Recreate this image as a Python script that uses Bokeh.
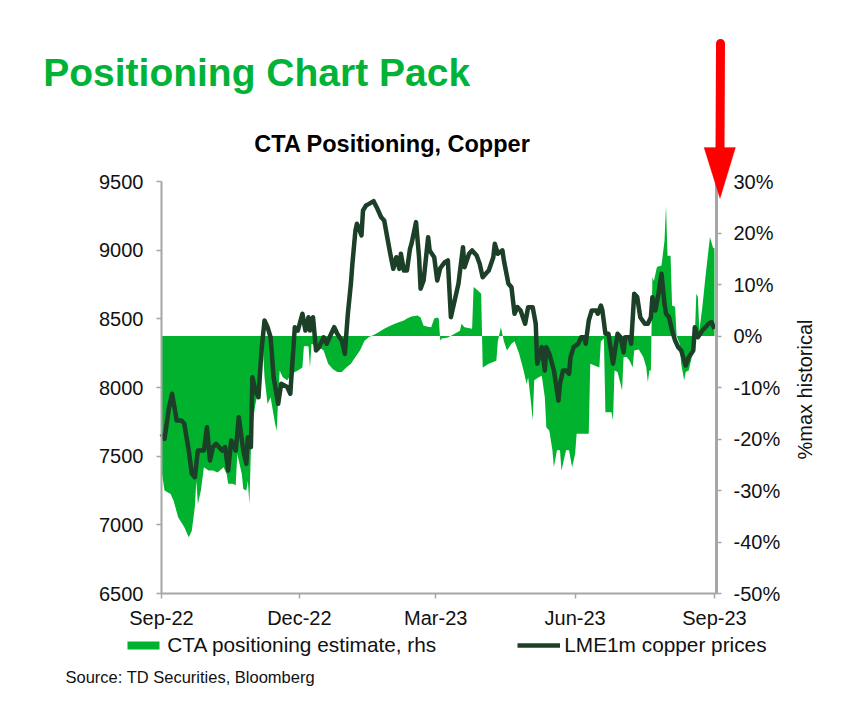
import math
import pandas as pd
from bokeh.plotting import figure
from bokeh.models import (Range1d, LinearAxis, FixedTicker, DatetimeTickFormatter,
                          PrintfTickFormatter, Label, Legend, LegendItem,
                          ColumnDataSource, PolyAnnotation, Arrow)
from bokeh.embed import file_html
from bokeh.resources import INLINE

# ---------------- data ----------------
price_dates = [
    "2022-09-01", "2022-09-03", "2022-09-06", "2022-09-08", "2022-09-11", "2022-09-14",
    "2022-09-16", "2022-09-19", "2022-09-21", "2022-09-23", "2022-09-25", "2022-09-29",
    "2022-10-01", "2022-10-03", "2022-10-05", "2022-10-07", "2022-10-11", "2022-10-13",
    "2022-10-15", "2022-10-17", "2022-10-20", "2022-10-22", "2022-10-25", "2022-10-27",
    "2022-10-28", "2022-10-30", "2022-10-31", "2022-11-02", "2022-11-04", "2022-11-06",
    "2022-11-08", "2022-11-10", "2022-11-12", "2022-11-14", "2022-11-17", "2022-11-19",
    "2022-11-23", "2022-11-25", "2022-11-28", "2022-11-30", "2022-12-03", "2022-12-05",
    "2022-12-07", "2022-12-08", "2022-12-10", "2022-12-12", "2022-12-14", "2022-12-17",
    "2022-12-19", "2022-12-22", "2022-12-24", "2022-12-26", "2022-12-29", "2022-12-31",
    "2023-01-02", "2023-01-04", "2023-01-05", "2023-01-07", "2023-01-08", "2023-01-09",
    "2023-01-11", "2023-01-12", "2023-01-14", "2023-01-16", "2023-01-19", "2023-01-21",
    "2023-01-24", "2023-01-26", "2023-01-28", "2023-01-30", "2023-02-01", "2023-02-03",
    "2023-02-05", "2023-02-06", "2023-02-08", "2023-02-10", "2023-02-12", "2023-02-13",
    "2023-02-16", "2023-02-18", "2023-02-19", "2023-02-21", "2023-02-24", "2023-02-25",
    "2023-02-28", "2023-03-02", "2023-03-04", "2023-03-07", "2023-03-09", "2023-03-11",
    "2023-03-13", "2023-03-16", "2023-03-19", "2023-03-20", "2023-03-23", "2023-03-25",
    "2023-03-28", "2023-03-30", "2023-04-01", "2023-04-03", "2023-04-05", "2023-04-08",
    "2023-04-09", "2023-04-11", "2023-04-14", "2023-04-15", "2023-04-18", "2023-04-20",
    "2023-04-22", "2023-04-24", "2023-04-26", "2023-04-29", "2023-05-01", "2023-05-04",
    "2023-05-06", "2023-05-07", "2023-05-10", "2023-05-12", "2023-05-13", "2023-05-15",
    "2023-05-18", "2023-05-19", "2023-05-21", "2023-05-22", "2023-05-24", "2023-05-26",
    "2023-05-28", "2023-05-29", "2023-05-31", "2023-06-03", "2023-06-05", "2023-06-07",
    "2023-06-08", "2023-06-10", "2023-06-12", "2023-06-15", "2023-06-16", "2023-06-18",
    "2023-06-19", "2023-06-21", "2023-06-23", "2023-06-24", "2023-06-26", "2023-06-28",
    "2023-06-29", "2023-07-01", "2023-07-03", "2023-07-04", "2023-07-07", "2023-07-08",
    "2023-07-10", "2023-07-12", "2023-07-14", "2023-07-17", "2023-07-19", "2023-07-21",
    "2023-07-22", "2023-07-24", "2023-07-26", "2023-07-28", "2023-07-30", "2023-07-31",
    "2023-08-02", "2023-08-04", "2023-08-06", "2023-08-08", "2023-08-10", "2023-08-13",
    "2023-08-15", "2023-08-18", "2023-08-19", "2023-08-21", "2023-08-24", "2023-08-26",
    "2023-08-28", "2023-08-30", "2023-09-01",
]
price_values = [
    7663, 7627, 7857, 7954, 7760, 7760,
    7738, 7541, 7372, 7347, 7541, 7541,
    7711, 7469, 7566, 7590, 7541, 7566,
    7396, 7614, 7541, 7784, 7541, 7444,
    7638, 7566, 8075, 7978, 7929, 8270,
    8488, 8439, 8366, 8075, 7881, 8027,
    8003, 7954, 8439, 8415, 8537, 8415,
    8512, 8415, 8512, 8270, 8294, 8366,
    8318, 8391, 8439, 8391, 8342, 8245,
    8537, 8755, 8901, 9143, 9192, 9167,
    9107, 9289, 9325, 9337, 9357, 9313,
    9240, 9216, 9094, 8974, 8864, 8949,
    8864, 8974, 8852, 8852, 9010, 9046,
    9204, 8949, 8719, 8779, 9094, 8998,
    8949, 8779, 8870, 8913, 8925, 8512,
    8609, 8755, 9022, 8876, 8974, 8998,
    8961, 8901, 8803, 8828, 8852, 8949,
    9046, 8974, 8998, 8925, 8755, 8730,
    8537, 8585, 8561, 8464, 8585, 8585,
    8464, 8173, 8294, 8124, 8294, 8245,
    8124, 8051, 7905, 8027, 8124, 8124,
    8100, 8221, 8294, 8318, 8366, 8366,
    8318, 8488, 8561, 8561, 8537, 8597,
    8561, 8391, 8391, 8318, 8173, 8318,
    8391, 8366, 8257, 8366, 8366, 8318,
    8682, 8658, 8512, 8464, 8464, 8512,
    8658, 8561, 8682, 8828, 8609, 8537,
    8512, 8415, 8342, 8294, 8270, 8160,
    8221, 8270, 8439, 8366, 8415, 8439,
    8464, 8476, 8427,
]

pos_dates = [
    "2022-09-01", "2022-09-03", "2022-09-07", "2022-09-09", "2022-09-12", "2022-09-16",
    "2022-09-19", "2022-09-21", "2022-09-23", "2022-09-24", "2022-09-25", "2022-09-27",
    "2022-09-29", "2022-10-02", "2022-10-05", "2022-10-08", "2022-10-12", "2022-10-14",
    "2022-10-15", "2022-10-18", "2022-10-20", "2022-10-21", "2022-10-24", "2022-10-25",
    "2022-10-27", "2022-10-28", "2022-10-29", "2022-10-30", "2022-10-31", "2022-11-02",
    "2022-11-04", "2022-11-05", "2022-11-07", "2022-11-08", "2022-11-10", "2022-11-12",
    "2022-11-15", "2022-11-16", "2022-11-18", "2022-11-20", "2022-11-23", "2022-11-26",
    "2022-11-30", "2022-12-03", "2022-12-04", "2022-12-07", "2022-12-08", "2022-12-09",
    "2022-12-14", "2022-12-17", "2022-12-20", "2022-12-23", "2022-12-26", "2022-12-29",
    "2023-01-01", "2023-01-04", "2023-01-07", "2023-01-10", "2023-01-13", "2023-01-16",
    "2023-01-19", "2023-01-22", "2023-01-26", "2023-01-30", "2023-02-02", "2023-02-05",
    "2023-02-08", "2023-02-10", "2023-02-13", "2023-02-17", "2023-02-19", "2023-02-21",
    "2023-02-24", "2023-02-26", "2023-02-28", "2023-03-02", "2023-03-03", "2023-03-04",
    "2023-03-05", "2023-03-09", "2023-03-12", "2023-03-17", "2023-03-18", "2023-03-20",
    "2023-03-25", "2023-03-26", "2023-03-29", "2023-03-31", "2023-04-01", "2023-04-05",
    "2023-04-10", "2023-04-11", "2023-04-13", "2023-04-15", "2023-04-17", "2023-04-20",
    "2023-04-22", "2023-04-25", "2023-04-28", "2023-04-30", "2023-05-01", "2023-05-03",
    "2023-05-04", "2023-05-05", "2023-05-08", "2023-05-10", "2023-05-12", "2023-05-13",
    "2023-05-15", "2023-05-17", "2023-05-18", "2023-05-20", "2023-05-22", "2023-05-23",
    "2023-05-25", "2023-05-26", "2023-05-28", "2023-05-30", "2023-06-01", "2023-06-02",
    "2023-06-10", "2023-06-11", "2023-06-17", "2023-06-18", "2023-06-20", "2023-06-21",
    "2023-06-25", "2023-06-26", "2023-06-27", "2023-06-29", "2023-07-01", "2023-07-02",
    "2023-07-03", "2023-07-05", "2023-07-07", "2023-07-09", "2023-07-10", "2023-07-13",
    "2023-07-16", "2023-07-18", "2023-07-19", "2023-07-20", "2023-07-21", "2023-07-22",
    "2023-07-23", "2023-07-25", "2023-07-28", "2023-07-30", "2023-07-31", "2023-08-01",
    "2023-08-03", "2023-08-04", "2023-08-06", "2023-08-07", "2023-08-09", "2023-08-10",
    "2023-08-12", "2023-08-13", "2023-08-15", "2023-08-18", "2023-08-19", "2023-08-20",
    "2023-08-21", "2023-08-22", "2023-08-24", "2023-08-26", "2023-08-29", "2023-08-31",
    "2023-09-01",
]
pos_values = [
    -26.1, -30.0, -30.7, -32.0, -35.2, -37.1,
    -39.1, -37.8, -33.2, -28.1, -32.6, -30.0,
    -25.5, -26.1, -26.1, -26.5, -25.5, -26.8,
    -28.7, -28.7, -29.0, -22.9, -26.8, -29.7,
    -30.0, -28.1, -32.6, -22.2, -17.1, -13.2,
    -10.6, -6.1, -2.8, -8.0, -13.2, -11.9,
    -17.1, -18.4, -6.7, -8.0, -8.6, -7.3,
    -6.7, -6.1, -2.0, -2.0, -6.1, -1.5,
    -2.2, -2.8, -5.4, -6.4, -7.0, -7.0,
    -6.1, -5.4, -4.1, -2.8, -0.9, -0.2,
    0.2, 0.7, 1.4, 2.0, 2.4, 2.7,
    3.0, 3.4, 3.8, 4.0, 3.6, 2.0,
    1.8, 1.7, 3.4, 3.6, 3.4, -0.9,
    -0.5, -0.3, 0.2, 1.0, 2.4, 1.7,
    1.4, 9.5, 8.8, 8.2, -6.1, -5.4,
    -4.8, -1.0, 1.7, -1.0, -2.8, -1.5,
    -1.0, -3.4, -6.7, -9.3, -8.0, -13.2,
    -16.4, -8.6, -8.0, -7.7, -11.9, -17.7,
    -18.4, -22.2, -25.5, -22.2, -22.2, -26.1,
    -23.5, -22.2, -22.2, -25.5, -22.9, -19.0,
    -19.0, -5.4, -6.1, -1.0, -0.5, -14.8,
    -14.8, -16.4, -6.7, -7.0, -9.3, -10.6,
    -4.1, -4.1, -4.8, -6.1, -2.8, -2.6,
    -4.1, -6.1, -9.0, -6.7, -6.7, 11.4,
    10.7, 13.4, 13.7, 18.5, 25.3, 15.6,
    15.6, 5.9, 5.7, 0.0, -1.5, -5.4,
    -8.6, -7.0, -6.7, -2.8, 0.0, 8.2,
    7.6, 1.0, 5.7, 11.4, 19.2, 17.2,
    17.0,
]

left_ticks = [6500, 7000, 7500, 8000, 8500, 9000, 9500]
right_ticks = [-50, -40, -30, -20, -10, 0, 10, 20, 30]
x_tick_dates = ["2022-09-01", "2022-12-01", "2023-03-01", "2023-06-01", "2023-09-01"]

title_text = "Positioning Chart Pack"
subtitle_text = "CTA Positioning, Copper"
area_label = "CTA positioning estimate, rhs"
line_label = "LME1m copper prices"
right_axis_title = "%max historical"
source_text = "Source: TD Securities, Bloomberg"

# ---------------- layout / style ----------------
W, H = 848, 712
FRAME_L, FRAME_R, FRAME_T, FRAME_B = 161, 716, 181, 593   # plot area in page pixels
SEP23_PX = 714                                            # where Sep-23 tick sits
FONT = "Liberation Sans"
AREA_GREEN = "#00B22D"
TITLE_GREEN = "#00B336"
LINE_GREEN = "#1B3F27"
AXIS_GREY = "#A6A6A6"
TEXT = "#111111"
DAY_MS = 86400000.0


def ms(d):
    return pd.Timestamp(d).value / 1e6


t0 = ms(x_tick_dates[0])
px_per_day = (SEP23_PX - FRAME_L) / 365.0


def px_to_ms(px):
    return t0 + (px - FRAME_L) / px_per_day * DAY_MS


def lin(py, v_top, v_bot):
    # value at page y for an axis running v_top (at FRAME_T) .. v_bot (at FRAME_B)
    return v_top + (py - FRAME_T) * (v_bot - v_top) / (FRAME_B - FRAME_T)


y_lo, y_hi = left_ticks[0], left_ticks[-1]
r_lo, r_hi = right_ticks[0], right_ticks[-1]

p = figure(width=W, height=H, x_axis_type="datetime",
           x_range=Range1d(px_to_ms(0), px_to_ms(W)),
           y_range=Range1d(lin(H, y_hi, y_lo), lin(0, y_hi, y_lo)),
           output_backend="svg", toolbar_location=None,
           min_border=0, min_border_left=0, min_border_right=0,
           min_border_top=0, min_border_bottom=0)
p.title = None
p.extra_y_ranges = {"pct": Range1d(lin(H, r_hi, r_lo), lin(0, r_hi, r_lo))}
p.xgrid.visible = False
p.ygrid.visible = False
p.outline_line_color = None
p.background_fill_color = "white"
p.border_fill_color = "white"

area_src = ColumnDataSource(dict(x=pd.to_datetime(pos_dates), y=pos_values,
                                 zero=[0.0] * len(pos_values)))
line_src = ColumnDataSource(dict(x=pd.to_datetime(price_dates), y=price_values))

area_r = p.varea(x="x", y1="zero", y2="y", source=area_src, y_range_name="pct",
                 fill_color=AREA_GREEN, fill_alpha=1.0)
line_r = p.line(x="x", y="y", source=line_src, line_color=LINE_GREEN,
                line_width=4.5, line_join="round")

# axes, pinned at the edges of the plot area
x_left, x_right = px_to_ms(FRAME_L), px_to_ms(FRAME_R)

right_axis = LinearAxis(y_range_name="pct", ticker=FixedTicker(ticks=right_ticks),
                        formatter=PrintfTickFormatter(format="%d%%"),
                        fixed_location=x_right, bounds=(r_lo, r_hi))
p.add_layout(right_axis, "right")

left_axis = p.yaxis[0]
left_axis.ticker = FixedTicker(ticks=left_ticks)
left_axis.fixed_location = x_left
left_axis.bounds = (y_lo, y_hi)

bottom_axis = p.xaxis[0]
bottom_axis.ticker = FixedTicker(ticks=[ms(d) for d in x_tick_dates])
fmt = "%b-%y"
bottom_axis.formatter = DatetimeTickFormatter(
    milliseconds=fmt, seconds=fmt, minsec=fmt, minutes=fmt, hourmin=fmt,
    hours=fmt, days=fmt, months=fmt, years=fmt)
bottom_axis.fixed_location = y_lo
bottom_axis.bounds = (x_left, x_right)

for ax in [bottom_axis, left_axis, right_axis]:
    ax.axis_line_color = AXIS_GREY
    ax.axis_line_width = 2
    ax.major_tick_line_color = AXIS_GREY
    ax.major_tick_line_width = 1.5
    ax.major_tick_in = 0
    ax.major_tick_out = 5
    ax.minor_tick_line_color = None
    ax.major_label_text_font = FONT
    ax.major_label_text_font_size = "20px"
    ax.major_label_text_color = TEXT

left_axis.major_label_standoff = 13
right_axis.major_label_standoff = 12
right_axis.axis_line_width = 3
bottom_axis.major_label_standoff = 8


def sy(py):
    return H - py


# texts (screen units: pixels from the bottom-left of the canvas-wide frame)
p.add_layout(Label(x=42.7, y=sy(71.7), x_units="screen", y_units="screen",
                   text=title_text, text_font=FONT, text_font_size="39px",
                   text_font_style="bold", text_color=TITLE_GREEN,
                   text_baseline="alphabetic"))
p.add_layout(Label(x=392, y=sy(143.3), x_units="screen", y_units="screen",
                   text=subtitle_text, text_font=FONT, text_font_size="23.5px",
                   text_font_style="bold", text_color="black",
                   text_align="center", text_baseline="alphabetic"))
p.add_layout(Label(x=804, y=sy(389), x_units="screen", y_units="screen",
                   text=right_axis_title, text_font=FONT, text_font_size="20px",
                   text_color=TEXT, angle=math.pi / 2,
                   text_align="center", text_baseline="middle"))
p.add_layout(Label(x=65, y=sy(676), x_units="screen", y_units="screen",
                   text=source_text, text_font=FONT, text_font_size="16.5px",
                   text_color=TEXT, text_baseline="alphabetic"))


def make_legend(label, rend, loc, gw):
    return Legend(items=[LegendItem(label=label, renderers=[rend])],
                  location=loc, orientation="horizontal", padding=0, margin=0,
                  border_line_color=None, background_fill_alpha=0.0,
                  glyph_width=gw, glyph_height=10, label_standoff=4,
                  label_text_font=FONT, label_text_font_size="20.8px",
                  label_text_color=TEXT)


p.add_layout(make_legend(area_label, area_r, (123.3, sy(657)), 40))
p.add_layout(make_legend(line_label, line_r, (517.3, sy(657)), 43))

# red arrow
p.add_layout(Arrow(end=None, x_start=720, y_start=sy(43), x_end=719.5, y_end=sy(150),
                   start_units="screen", end_units="screen",
                   line_color="#FF0000", line_width=9, line_cap="round"))
p.add_layout(PolyAnnotation(xs=[703.5, 735, 719.5], ys=[sy(147), sy(147), sy(198)],
                            xs_units="screen", ys_units="screen",
                            fill_color="#FF0000", fill_alpha=1.0,
                            line_color="#FF0000", line_width=1))

open("out.html", "w").write(file_html(p, INLINE))
